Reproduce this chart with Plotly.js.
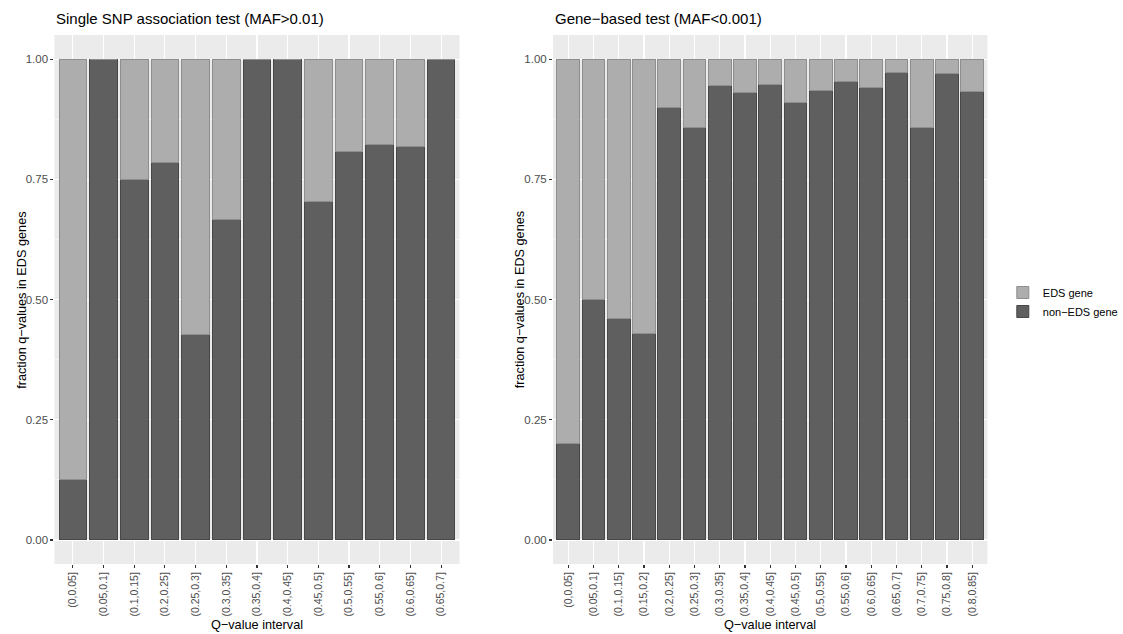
<!DOCTYPE html>
<html>
<head>
<meta charset="utf-8">
<script src="https://cdn.plot.ly/plotly-3.0.1.min.js"></script>
<style>html,body{margin:0;padding:0;background:#fff;}#chart{width:1123px;height:634px;}</style>
</head>
<body>
<div id="chart"></div>
<script>
// ---- data ----
const leftCategories = ["(0,0.05]","(0.05,0.1]","(0.1,0.15]","(0.2,0.25]","(0.25,0.3]","(0.3,0.35]","(0.35,0.4]","(0.4,0.45]","(0.45,0.5]","(0.5,0.55]","(0.55,0.6]","(0.6,0.65]","(0.65,0.7]"];
const leftNonEDS = [0.125,1,0.75,0.785,0.428,0.667,1,1,0.703,0.807,0.823,0.818,1];
const leftEDS    = [0.875,0,0.25,0.215,0.572,0.333,0,0,0.297,0.193,0.177,0.182,0];

const rightCategories = ["(0,0.05]","(0.05,0.1]","(0.1,0.15]","(0.15,0.2]","(0.2,0.25]","(0.25,0.3]","(0.3,0.35]","(0.35,0.4]","(0.4,0.45]","(0.45,0.5]","(0.5,0.55]","(0.55,0.6]","(0.6,0.65]","(0.65,0.7]","(0.7,0.75]","(0.75,0.8]","(0.8,0.85]"];
const rightNonEDS = [0.2,0.5,0.461,0.429,0.9,0.857,0.944,0.931,0.948,0.909,0.935,0.954,0.941,0.972,0.857,0.97,0.933];
const rightEDS    = [0.8,0.5,0.539,0.571,0.1,0.143,0.056,0.069,0.052,0.091,0.065,0.046,0.059,0.028,0.143,0.03,0.067];

const seriesNames = ["EDS gene","non\u2212EDS gene"];
const panelTitles = ["Single SNP association test (MAF>0.01)","Gene\u2212based test (MAF<0.001)"];
const xTitle = "Q\u2212value interval";
const yTitle = "fraction q\u2212values in EDS genes";

// ---- styling ----
const W = 1123, H = 634;
const FONT = "Liberation Sans, Arial, sans-serif";
const colEDS = "#adadad", colNon = "#5f5f5f";
const lineEDS = "#8e8e8e", lineNon = "#474747";

const traces = [
  {type:"bar", x:leftCategories, y:leftNonEDS, name:seriesNames[1], xaxis:"x", yaxis:"y",
   marker:{color:colNon, line:{color:lineNon, width:1}}, legendgroup:"non", showlegend:true},
  {type:"bar", x:leftCategories, y:leftEDS, name:seriesNames[0], xaxis:"x", yaxis:"y",
   marker:{color:colEDS, line:{color:lineEDS, width:1}}, legendgroup:"eds", showlegend:true},
  {type:"bar", x:rightCategories, y:rightNonEDS, name:seriesNames[1], xaxis:"x2", yaxis:"y2",
   marker:{color:colNon, line:{color:lineNon, width:1}}, legendgroup:"non", showlegend:false},
  {type:"bar", x:rightCategories, y:rightEDS, name:seriesNames[0], xaxis:"x2", yaxis:"y2",
   marker:{color:colEDS, line:{color:lineEDS, width:1}}, legendgroup:"eds", showlegend:false}
];

const yDom = [1 - 564/H, 1 - 35/H];
function xaxisDef(dom, n) {
  return {
    domain: dom, range: [-0.6, n - 1 + 0.6], type: "category",
    showgrid: true, gridcolor: "#ffffff", gridwidth: 1.1,
    zeroline: false, showline: false,
    ticks: "outside", ticklen: 3, tickwidth: 1.1, tickcolor: "#333333",
    tickangle: -90, tickfont: {family: FONT, size: 10.5, color: "#4d4d4d"},
    fixedrange: true
  };
}
function yaxisDef(anchor) {
  return {
    domain: yDom, anchor: anchor, range: [-0.05, 1.05],
    tickmode: "linear", tick0: 0, dtick: 0.25, tickformat: ".2f",
    showgrid: true, gridcolor: "#ffffff", gridwidth: 1.1,
    minor: {tick0: 0.125, dtick: 0.25, showgrid: true, gridcolor: "#ffffff", gridwidth: 0.5},
    zeroline: false, showline: false,
    ticks: "outside", ticklen: 3, tickwidth: 1.1, tickcolor: "#333333",
    tickfont: {family: FONT, size: 11.5, color: "#4d4d4d"},
    fixedrange: true
  };
}

const lx0 = 54.8/W, lx1 = 462.8/W, rx0 = 557/W, rx1 = 994.5/W;

const layout = {
  width: W, height: H,
  margin: {l: 0, r: 0, t: 0, b: 0},
  paper_bgcolor: "#ffffff", plot_bgcolor: "#ebebeb",
  barmode: "stack", bargap: 0.1,
  font: {family: FONT, color: "#000000"},
  showlegend: true,
  legend: {x: 1010/W, xanchor: "left", y: 1 - 278/H, yanchor: "top",
           traceorder: "reversed", bgcolor: "rgba(0,0,0,0)",
           font: {family: FONT, size: 11, color: "#000000"}},
  xaxis: xaxisDef([lx0, lx1], leftCategories.length),
  yaxis: yaxisDef("x"),
  xaxis2: Object.assign(xaxisDef([rx0, rx1], rightCategories.length), {anchor: "y2"}),
  yaxis2: yaxisDef("x2"),
  annotations: [
    {text: panelTitles[0], xref: "paper", yref: "paper", x: lx0, y: 1 - 18/H, xanchor: "left", yanchor: "middle",
     showarrow: false, font: {family: FONT, size: 15, color: "#000000"}},
    {text: panelTitles[1], xref: "paper", yref: "paper", x: rx0, y: 1 - 18/H, xanchor: "left", yanchor: "middle",
     showarrow: false, font: {family: FONT, size: 15, color: "#000000"}},
    {text: xTitle, xref: "paper", yref: "paper", x: (lx0 + lx1)/2, y: 1 - 625/H, xanchor: "center", yanchor: "middle",
     showarrow: false, font: {family: FONT, size: 12.7, color: "#000000"}},
    {text: xTitle, xref: "paper", yref: "paper", x: (rx0 + rx1)/2, y: 1 - 625/H, xanchor: "center", yanchor: "middle",
     showarrow: false, font: {family: FONT, size: 12.7, color: "#000000"}},
    {text: yTitle, xref: "paper", yref: "paper", x: 22/W, y: 1 - 300/H, xanchor: "center", yanchor: "middle", textangle: -90,
     showarrow: false, font: {family: FONT, size: 12.7, color: "#000000"}},
    {text: yTitle, xref: "paper", yref: "paper", x: 524/W, y: 1 - 300/H, xanchor: "center", yanchor: "middle", textangle: -90,
     showarrow: false, font: {family: FONT, size: 12.7, color: "#000000"}}
  ]
};

Plotly.newPlot("chart", traces, layout, {staticPlot: true, displayModeBar: false});
</script>
</body>
</html>
